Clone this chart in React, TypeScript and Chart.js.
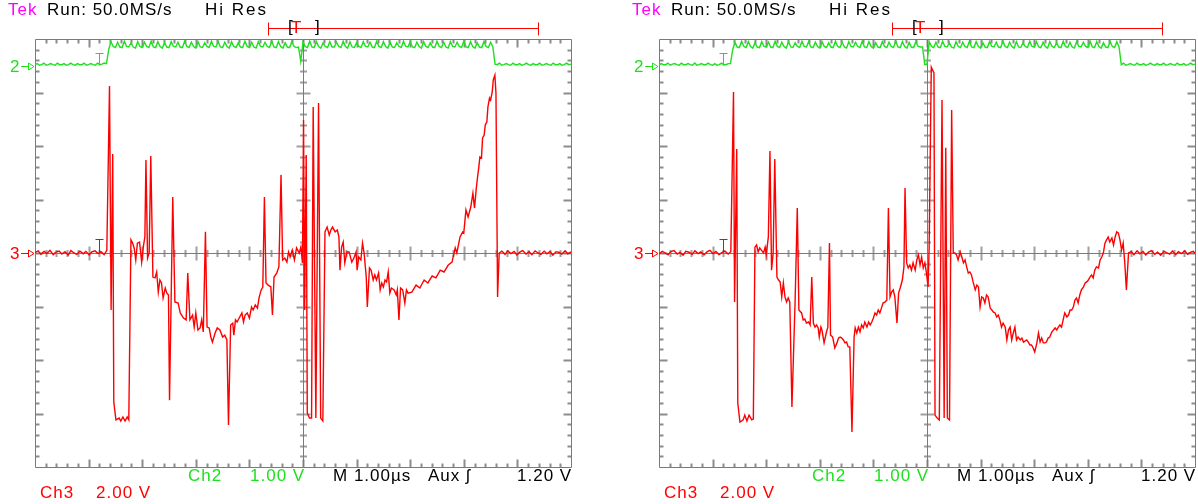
import React, { useEffect, useRef } from "react";
import { Chart, registerables } from "chart.js";

Chart.register(...registerables);

// ---------- labels ----------
const headerTek = "Tek";
const headerRun = "Run: 50.0MS/s";
const headerMode = "Hi Res";
const ch2Name = "Ch2";
const ch2Scale = "1.00 V";
const ch3Name = "Ch3";
const ch3Scale = "2.00 V";
const timebase = "M 1.00µs";
const trigSource = "Aux ʃ";
const trigLevelText = "1.20 V";

// ---------- axes (µs / volts) ----------
const timeMin = 0;
const timeMax = 10; // 10 div × 1.00 µs
const ch3Range = [-8, 8]; // 2.00 V/div, ground at centre
const ch2Range = [-7.5, 0.5]; // 1.00 V/div, ground 3.5 div above centre
const greenSampleStep = 1 / 24; // µs between Ch2 samples
const trigTime = 1.19;

// ---------- Ch3 (red), left capture ----------
const redLeftT = [
  0.00,0.06,0.11,0.17,0.22,0.28,0.34,0.39,0.45,0.50,0.56,0.62,0.67,0.73,0.78,0.84,0.90,0.95,1.01,1.06,1.12,1.18,1.23,1.29,1.34,
  1.39,1.42,1.45,1.47,1.51,1.57,1.60,1.64,1.68,1.72,1.75,1.79,1.82,1.85,1.88,1.91,1.95,1.99,2.02,2.05,2.07,2.10,2.13,2.16,
  2.20,2.24,2.27,2.30,2.33,2.36,2.39,2.43,2.46,2.49,2.51,2.57,2.61,2.67,2.71,2.77,2.82,2.85,2.89,2.94,2.97,3.00,3.04,3.08,3.11,3.14,3.18,
  3.21,3.25,3.28,3.31,3.36,3.40,3.45,3.50,3.54,3.58,3.61,3.65,3.69,3.71,3.74,3.77,3.81,3.86,3.89,3.92,3.96,4.00,4.04,4.07,4.11,4.15,4.18,4.22,4.25,4.28,
  4.31,4.35,4.40,4.43,4.46,4.51,4.55,4.59,4.62,4.66,4.70,4.73,4.76,4.80,4.84,4.88,4.93,4.96,4.99,
  5.01,5.03,5.06,5.08,5.12,5.16,5.19,5.24,5.29,5.33,5.37,5.41,5.45,5.49,5.52,5.55,5.60,5.64,5.67,
  5.69,5.72,5.75,5.78,5.82,5.86,5.91,5.95,5.99,6.01,6.04,6.08,6.11,6.14,6.18,6.20,6.24,6.27,6.31,6.34,6.37,6.41,6.44,6.47,6.50,6.53,6.56,6.59,6.62,6.65,6.70,6.74,6.76,6.79,6.82,6.86,6.90,6.93,6.96,
  7.03,7.11,7.18,7.26,7.33,7.41,7.48,7.56,7.63,7.71,7.78,7.84,7.87,7.93,7.98,8.00,8.04,8.08,8.13,8.17,8.20,8.23,8.25,8.28,8.30,8.33,8.35,8.38,8.40,8.43,8.45,8.48,8.50,8.53,8.55,8.58,8.60,8.63,8.66,
  8.71,8.77,8.82,8.88,8.94,8.99,9.05,9.10,9.16,9.22,9.27,9.33,9.38,9.44,9.50,9.55,9.61,9.66,9.72,9.78,9.83,9.89,9.94,10.00,
];
const redLeftV = [
  0.02,0.08,-0.05,0.06,-0.02,0.10,-0.06,0.03,0.07,-0.04,0.05,-0.08,0.09,0.00,-0.05,0.07,-0.03,0.06,-0.07,0.04,0.08,-0.02,0.05,-0.06,0.10,
  6.24,-2.13,3.70,-5.57,-6.24,-6.17,-6.28,-6.13,-6.28,-6.13,-6.24,0.49,0.37,0.19,-0.26,0.37,0.41,-0.34,0.22,0.60,3.48,-0.19,0.00,3.63,
  -0.90,-0.93,-0.71,-1.46,-1.01,-1.12,-1.68,-1.31,-1.50,-1.57,-5.50,2.09,-1.83,-1.87,-2.24,-2.43,-2.50,-0.75,-2.50,-2.32,-2.77,-2.24,-2.88,-2.80,-2.50,-2.95,0.79,
  -2.77,-2.80,-3.14,-3.33,-2.99,-2.80,-2.88,-3.14,-3.07,-3.25,-6.43,-2.69,-2.62,-3.07,-2.50,-2.58,-2.43,-2.24,-2.58,-2.32,-2.24,-2.43,-2.02,-2.13,-1.94,-2.06,-1.68,-1.38,-1.27,2.09,
  -1.12,-1.20,-1.27,-2.32,-0.90,-0.75,-0.52,2.92,-0.26,-0.19,-0.34,0.04,-0.15,0.11,-0.26,0.19,0.00,0.22,-0.37,
  4.97,-2.13,3.66,-5.98,-6.17,-6.17,5.46,-6.17,5.61,-6.17,-6.28,0.79,0.97,0.67,0.86,0.97,0.79,0.86,0.60,
  -0.64,0.22,0.41,-0.37,0.04,0.04,-0.34,-0.19,0.04,-0.64,-0.15,-0.26,0.37,0.00,-0.90,-2.02,-0.56,-0.64,-1.01,-0.82,-1.01,-0.75,-1.38,-1.12,-1.27,-1.01,-1.08,-0.71,-1.50,-1.31,-1.38,-1.57,-1.38,-2.50,-1.31,-1.38,-1.87,-1.38,-1.50,
  -1.46,-1.20,-1.31,-1.01,-1.12,-0.86,-0.93,-0.64,-0.71,-0.45,-0.34,0.19,0.00,0.60,0.79,0.75,1.61,1.35,1.72,2.24,1.68,2.36,2.73,3.21,3.59,3.55,4.30,4.41,4.79,4.90,5.46,5.79,5.72,6.02,6.47,6.65,5.98,-1.64,0.00,
  0.07,-0.05,0.08,-0.02,0.06,-0.07,0.04,0.09,-0.04,0.05,-0.06,0.08,0.01,-0.05,0.07,-0.03,0.06,-0.08,0.05,0.02,-0.04,0.08,-0.03,0.04,
];

// ---------- Ch3 (red), right capture ----------
const redRightT = [
  0.00,0.06,0.11,0.17,0.22,0.28,0.34,0.39,0.45,0.50,0.56,0.62,0.67,0.73,0.78,0.84,0.90,0.95,1.01,1.06,1.12,1.18,1.23,1.29,1.34,
  1.39,1.41,1.45,1.47,1.51,1.57,1.60,1.64,1.68,1.73,1.76,1.79,1.82,1.85,1.88,1.91,1.95,1.98,2.00,2.04,2.07,2.10,2.13,2.16,
  2.20,2.23,2.26,2.29,2.32,2.35,2.38,2.41,2.44,2.48,2.54,2.58,2.61,2.66,2.69,2.72,2.75,2.79,2.82,2.85,2.88,2.91,2.94,2.97,2.99,3.02,3.04,3.08,3.12,3.15,3.18,
  3.20,3.24,3.28,3.32,3.35,3.38,3.41,3.44,3.47,3.50,3.53,3.56,3.60,3.64,3.66,3.69,3.72,3.75,3.78,3.81,3.84,3.88,3.91,3.94,3.97,4.00,4.03,4.06,4.09,4.12,4.15,4.18,4.22,4.25,4.28,
  4.31,4.34,4.37,4.40,4.44,4.47,4.50,4.54,4.57,4.59,4.62,4.65,4.68,4.71,4.74,4.78,4.81,4.84,4.87,4.90,4.93,4.96,4.99,5.02,5.04,
  5.08,5.13,5.15,5.19,5.23,5.28,5.32,5.35,5.38,5.42,5.46,5.49,
  5.52,5.55,5.58,5.62,5.65,5.68,5.71,5.74,5.77,5.80,5.83,5.86,5.90,5.93,5.96,5.99,6.02,6.05,6.08,6.11,6.14,6.18,6.21,6.24,6.27,6.30,6.33,6.36,6.39,6.42,6.46,6.49,6.52,6.55,6.58,6.61,6.64,6.67,6.70,6.74,6.77,6.80,6.86,6.89,6.92,6.95,6.98,7.01,
  7.05,7.08,7.11,7.14,7.17,7.20,7.23,7.26,7.29,7.33,7.36,7.39,7.42,7.45,7.48,7.51,7.54,7.57,7.61,7.64,7.67,7.70,7.73,7.76,7.79,7.82,7.85,7.88,7.92,7.95,7.98,8.01,8.04,8.07,8.10,8.13,8.16,8.20,8.23,8.26,8.29,8.32,8.35,8.38,8.41,8.45,8.48,8.51,8.54,8.57,8.60,8.63,8.66,8.69,8.72,8.76,
  8.81,8.86,8.92,8.97,9.03,9.08,9.14,9.19,9.25,9.30,9.36,9.42,9.47,9.53,9.58,9.64,9.69,9.75,9.81,9.86,9.92,9.97,10.00,
];
const redRightV = [
  -0.03,0.06,0.01,-0.07,0.05,0.09,-0.04,0.02,-0.08,0.06,0.03,-0.05,0.08,-0.02,0.04,-0.07,0.05,0.10,-0.03,0.06,-0.06,0.02,0.07,-0.04,0.05,
  6.02,-1.83,3.89,-5.61,-6.32,-6.24,-6.06,-6.28,-6.06,-6.24,-6.21,0.22,0.30,0.04,0.19,0.11,0.00,0.22,-0.07,0.60,3.81,-0.64,0.00,3.51,
  -0.90,-1.01,-1.08,-1.64,-1.12,-1.64,-1.83,-1.68,-1.83,-5.76,-1.76,1.68,-2.13,-2.24,-2.50,-2.47,-2.62,-2.58,-2.69,-0.90,-2.62,-2.77,-2.69,-2.80,-3.14,-2.77,-2.88,-3.36,-2.99,-2.77,0.37,
  -3.07,-3.14,-3.55,-3.36,-3.18,-3.14,-3.18,-3.25,-3.36,-3.33,-3.51,-3.51,-6.69,-3.14,-2.80,-2.99,-2.77,-2.95,-2.69,-2.80,-2.58,-2.77,-2.58,-2.69,-2.58,-2.43,-2.24,-2.32,-2.13,-2.24,-2.06,-1.87,-1.83,-1.76,1.68,
  -1.64,-1.46,-1.38,-1.64,-2.62,-1.50,-1.31,-1.01,-0.52,2.43,-0.37,-0.56,-0.45,-0.64,-0.37,-0.64,-0.26,-0.07,-0.45,-0.15,-0.56,-0.37,-0.75,-1.27,0.22,
  6.95,6.73,-6.06,-6.17,-6.24,5.72,-6.17,3.93,-6.17,-6.24,5.35,0.00,
  0.00,-0.07,-0.26,0.04,-0.15,-0.37,-0.26,-0.52,-0.75,-0.71,-0.82,-1.08,-1.38,-1.20,-1.27,-2.02,-1.64,-1.68,-1.87,-1.57,-1.64,-2.06,-2.13,-2.21,-2.24,-2.39,-2.32,-2.50,-2.77,-2.62,-2.77,-3.25,-2.88,-2.77,-3.25,-2.99,-2.77,-3.25,-3.14,-3.25,-3.18,-3.33,-3.25,-3.33,-3.44,-3.44,-3.55,-3.70,
  -3.36,-2.99,-3.33,-3.18,-3.36,-3.36,-3.33,-3.18,-3.14,-2.95,-2.88,-2.80,-2.88,-2.77,-2.69,-2.77,-2.50,-2.24,-2.39,-2.32,-2.13,-2.13,-2.02,-1.76,-1.68,-1.87,-1.57,-1.38,-1.27,-1.12,-1.08,-1.01,-0.90,-0.82,-0.93,-0.64,-0.52,-0.56,-0.26,-0.15,0.00,0.37,0.49,0.60,0.41,0.56,0.30,0.60,0.79,0.75,0.49,0.11,0.37,-0.37,-1.38,0.00,
  0.05,-0.06,0.08,-0.03,0.06,-0.07,0.04,0.09,-0.05,0.03,-0.08,0.06,0.01,-0.04,0.07,-0.06,0.05,-0.02,0.08,-0.05,0.03,0.06,-0.02,
];

// ---------- Ch2 (green), sampled every greenSampleStep µs ----------
const greenLeftV = [
  0.02,0.04,0.01,0.02,0.05,0.01,0.02,0.04,0.02,0.01,0.05,0.02,0.02,0.04,0.01,0.02,0.05,0.02,0.01,0.04,0.02,0.02,0.05,0.01,0.02,0.04,0.02,0.01,0.05,0.02,0.03,0.05,
  0.04,0.30,
  0.45,0.36,0.34,0.44,0.35,0.34,0.46,0.36,0.35,0.43,0.35,0.33,
  0.45,0.36,0.34,0.44,0.36,0.34,0.46,0.35,0.34,0.45,0.36,0.33,
  0.43,0.35,0.34,0.45,0.36,0.35,0.44,0.35,0.34,0.46,0.36,0.34,
  0.44,0.36,0.33,0.45,0.35,0.34,0.43,0.36,0.34,0.46,0.36,0.35,
  0.45,0.35,0.34,0.44,0.36,0.33,0.45,0.36,0.34,0.43,0.35,0.34,
  0.46,0.36,0.34,0.44,0.35,0.33,0.45,0.36,0.35,0.44,0.36,0.34,
  0.46,0.35,0.34,0.45,0.36,0.33,0.43,0.35,0.34,0.45,0.36,0.34,
  0.35,
  0.08,
  0.44,0.36,0.34,0.46,0.35,0.34,0.45,0.36,0.33,0.43,0.36,0.34,
  0.45,0.35,0.35,0.44,0.36,0.34,0.46,0.36,0.33,0.45,0.35,0.34,
  0.43,0.36,0.34,0.45,0.36,0.35,0.44,0.35,0.34,0.46,0.36,0.34,
  0.45,0.36,0.33,0.44,0.35,0.34,0.43,0.36,0.34,0.46,0.36,0.35,
  0.45,0.35,0.34,0.44,0.36,0.33,0.45,0.36,0.34,0.43,0.35,0.34,
  0.46,0.36,0.34,0.44,0.35,0.33,0.45,0.36,0.35,0.44,0.36,0.34,
  0.46,0.35,0.34,0.45,0.36,0.33,0.43,0.35,0.34,0.45,0.36,0.34,
  0.44,0.35,
  0.03,0.02,0.05,0.01,0.02,0.04,0.02,0.01,0.05,0.02,0.02,0.04,0.01,0.02,0.05,0.02,0.01,0.04,0.02,0.02,0.05,0.01,0.02,0.04,0.02,0.01,0.05,0.02,0.02,0.04,0.01,0.02,0.05,0.02,0.03,
];
const greenRightV = [
  0.01,0.04,0.02,0.02,0.05,0.01,0.03,0.04,0.02,0.01,0.05,0.02,0.02,0.04,0.02,0.01,0.05,0.01,0.02,0.04,0.02,0.02,0.05,0.02,0.01,0.04,0.01,0.02,0.05,0.02,0.02,0.04,
  0.04,0.30,
  0.44,0.35,0.34,0.46,0.36,0.34,0.45,0.36,0.33,0.43,0.35,0.34,
  0.45,0.36,0.35,0.44,0.35,0.34,0.46,0.36,0.34,0.44,0.36,0.33,
  0.45,0.35,0.34,0.43,0.36,0.34,0.46,0.36,0.35,0.45,0.35,0.34,
  0.44,0.36,0.33,0.45,0.36,0.34,0.43,0.35,0.34,0.46,0.36,0.34,
  0.44,0.35,0.33,0.45,0.36,0.35,0.44,0.36,0.34,0.46,0.35,0.34,
  0.45,0.36,0.33,0.43,0.35,0.34,0.45,0.36,0.34,0.44,0.36,0.34,
  0.46,0.35,0.34,0.45,0.36,0.33,0.44,0.35,0.34,0.45,0.36,0.35,
  0.35,
  0.02,0.03,
  0.45,0.36,0.34,0.44,0.35,0.34,0.46,0.36,0.35,0.43,0.35,0.33,
  0.45,0.36,0.34,0.44,0.36,0.34,0.46,0.35,0.34,0.45,0.36,0.33,
  0.43,0.35,0.34,0.45,0.36,0.35,0.44,0.35,0.34,0.46,0.36,0.34,
  0.44,0.36,0.33,0.45,0.35,0.34,0.43,0.36,0.34,0.46,0.36,0.35,
  0.45,0.35,0.34,0.44,0.36,0.33,0.45,0.36,0.34,0.43,0.35,0.34,
  0.46,0.36,0.34,0.44,0.35,0.33,0.45,0.36,0.35,0.44,0.36,0.34,
  0.46,0.35,0.34,0.45,0.36,0.33,0.43,0.35,0.34,0.45,0.36,0.34,
  0.45,0.35,
  0.02,0.05,0.01,0.02,0.04,0.02,0.01,0.05,0.02,0.02,0.04,0.01,0.02,0.05,0.02,0.01,0.04,0.02,0.02,0.05,0.01,0.02,0.04,0.02,0.01,0.05,0.02,0.02,0.04,0.01,0.02,0.05,0.02,0.03,
];

// ---------- styling ----------
const RED = "#ff0000";
const GREEN = "#1ee01e";
const GRID = "#7a7a7a";
const TICK_LIGHT = "#a0a0a0";
const TICK_EDGE = "#8c8c8c";
const MAGENTA = "#ff00ff";
const FONT = '"Liberation Sans", Arial, Helvetica, sans-serif';

const scopePlugin = {
  id: "scopeGraticule",
  beforeDatasetsDraw(chart: any) {
    const { ctx, chartArea } = chart;
    const xs = chart.scales.x;
    const ys = chart.scales.y3;
    const snap = (v: number) => Math.round(v) + 0.5;
    const L = snap(chartArea.left);
    const R = snap(chartArea.right);
    const T = snap(chartArea.top);
    const B = snap(chartArea.bottom);
    const cx = snap(xs.getPixelForValue((timeMin + timeMax) / 2));
    const cy = snap(ys.getPixelForValue(0));
    ctx.save();

    // centre-line ticks (light, 2px)
    ctx.strokeStyle = TICK_LIGHT;
    ctx.lineWidth = 2;
    ctx.beginPath();
    for (let i = 1; i < 50; i++) {
      const major = i % 5 === 0;
      if (i === 25) continue;
      const x = Math.round(xs.getPixelForValue(timeMin + i * 0.2)) + 0.5;
      const ec = major ? 7 : 3.5;
      ctx.moveTo(x, cy - ec);
      ctx.lineTo(x, cy + ec);
    }
    for (let i = 1; i < 40; i++) {
      const major = i % 5 === 0;
      if (i === 20) continue;
      const y = Math.round(ys.getPixelForValue(ch3Range[0] + i * 0.4)) + 0.5;
      const ec = major ? 7 : 3.5;
      ctx.moveTo(cx - ec, y);
      ctx.lineTo(cx + ec, y);
    }
    ctx.stroke();

    // edge ticks (2px)
    ctx.strokeStyle = TICK_EDGE;
    ctx.lineWidth = 2;
    ctx.beginPath();
    for (let i = 1; i < 50; i++) {
      const major = i % 5 === 0;
      const x = Math.round(xs.getPixelForValue(timeMin + i * 0.2)) + 0.5;
      const eb = major ? 8 : 4;
      ctx.moveTo(x, T);
      ctx.lineTo(x, T + eb);
      ctx.moveTo(x, B);
      ctx.lineTo(x, B - eb);
    }
    for (let i = 1; i < 40; i++) {
      const major = i % 5 === 0;
      const y = Math.round(ys.getPixelForValue(ch3Range[0] + i * 0.4)) + 0.5;
      const eb = major ? 8 : 4;
      ctx.moveTo(L, y);
      ctx.lineTo(L + eb, y);
      ctx.moveTo(R, y);
      ctx.lineTo(R - eb, y);
    }
    ctx.stroke();

    // frame and centre lines
    ctx.strokeStyle = GRID;
    ctx.lineWidth = 1;
    ctx.beginPath();
    ctx.rect(L, T, R - L, B - T);
    ctx.moveTo(cx, T);
    ctx.lineTo(cx, B);
    ctx.moveTo(L, cy);
    ctx.lineTo(R, cy);
    ctx.stroke();
    ctx.restore();
  },
  afterDatasetsDraw(chart: any) {
    const { ctx, chartArea } = chart;
    const xs = chart.scales.x;
    const y3 = chart.scales.y3;
    const y2 = chart.scales.y2;
    const snap = (v: number) => Math.round(v) + 0.5;
    const L = Math.round(chartArea.left);
    const T = Math.round(chartArea.top);
    ctx.save();
    ctx.lineWidth = 1;
    // ground markers
    const marker = (y: number, color: string) => {
      ctx.strokeStyle = color;
      ctx.beginPath();
      ctx.moveTo(L - 14, snap(y));
      ctx.lineTo(L - 6, snap(y));
      ctx.moveTo(L - 6.5, snap(y) - 3.5);
      ctx.lineTo(L - 1, snap(y));
      ctx.lineTo(L - 6.5, snap(y) + 3.5);
      ctx.closePath();
      ctx.stroke();
    };
    marker(y3.getPixelForValue(0), RED);
    marker(y2.getPixelForValue(0), GREEN);
    // trigger "T" markers
    const tx = snap(xs.getPixelForValue(trigTime));
    const tee = (yBase: number, h: number, color: string) => {
      ctx.strokeStyle = color;
      ctx.beginPath();
      ctx.moveTo(tx - 4, snap(yBase - h));
      ctx.lineTo(tx + 4, snap(yBase - h));
      ctx.moveTo(tx, snap(yBase - h));
      ctx.lineTo(tx, snap(yBase - 1));
      ctx.stroke();
    };
    tee(y3.getPixelForValue(0), 14, RED);
    tee(y2.getPixelForValue(0), 13, GREEN);
    // record view bar
    const ry = T - 11 + 0.5;
    ctx.strokeStyle = RED;
    ctx.beginPath();
    ctx.moveTo(L + 233.5, ry);
    ctx.lineTo(L + 503.5, ry);
    ctx.moveTo(L + 233.5, ry - 6);
    ctx.lineTo(L + 233.5, ry + 7);
    ctx.moveTo(L + 503.5, ry - 6);
    ctx.lineTo(L + 503.5, ry + 7);
    ctx.stroke();
    ctx.restore();
  },
};

type PanelProps = {
  left: number;
  width: number;
  padRight: number;
  redT: number[];
  redV: number[];
  greenV: number[];
};

function Label({ x, y, color, text, spacing = 1 }: { x: number; y: number; color: string; text: string; spacing?: number }) {
  return (
    <span
      style={{
        position: "absolute",
        left: x,
        top: y,
        color,
        fontFamily: FONT,
        fontSize: 17,
        lineHeight: "17px",
        letterSpacing: spacing,
        whiteSpace: "pre",
      }}
    >
      {text}
    </span>
  );
}

function ScopePanel({ left, width, padRight, redT, redV, greenV }: PanelProps) {
  const ref = useRef<HTMLCanvasElement>(null);
  useEffect(() => {
    if (!ref.current) return;
    const chart = new Chart(ref.current, {
      type: "line",
      data: {
        datasets: [
          {
            label: ch2Name,
            data: greenV.map((v, i) => ({ x: i * greenSampleStep, y: v })),
            yAxisID: "y2",
            borderColor: GREEN,
            borderWidth: 1.4,
            pointRadius: 0,
            tension: 0,
          },
          {
            label: ch3Name,
            data: redT.map((t, i) => ({ x: t, y: redV[i] })),
            yAxisID: "y3",
            borderColor: RED,
            borderWidth: 1.4,
            pointRadius: 0,
            tension: 0,
          },
        ],
      },
      options: {
        animation: false,
        responsive: false,
        events: [],
        layout: { padding: { left: 35, top: 39, right: padRight, bottom: 37 } },
        scales: {
          x: { type: "linear", min: timeMin, max: timeMax, display: false },
          y3: { type: "linear", min: ch3Range[0], max: ch3Range[1], display: false },
          y2: { type: "linear", min: ch2Range[0], max: ch2Range[1], display: false },
        },
        plugins: { legend: { display: false }, tooltip: { enabled: false } },
      },
      plugins: [scopePlugin],
    } as any);
    return () => chart.destroy();
  }, []);
  return (
    <>
      <canvas
        ref={ref}
        width={width}
        height={504}
        style={{ position: "absolute", left, top: 0, width, height: 504 }}
      />
      <Label x={left + 8} y={1} color={MAGENTA} text={headerTek} />
      <Label x={left + 47} y={1} color="#000" text={headerRun} />
      <Label x={left + 205} y={1} color="#000" text={headerMode} spacing={2} />
      <Label x={left + 288} y={18} color="#000" text="[" />
      <Label x={left + 291} y={19} color={RED} text="T" />
      <Label x={left + 315} y={18} color="#000" text="]" />
      <Label x={left + 10} y={58} color={GREEN} text="2" />
      <Label x={left + 10} y={245} color={RED} text="3" />
      <Label x={left + 188} y={467} color={GREEN} text={ch2Name} />
      <Label x={left + 250} y={467} color={GREEN} text={ch2Scale} />
      <Label x={left + 333} y={467} color="#000" text={timebase} />
      <Label x={left + 428} y={467} color="#000" text={trigSource} />
      <Label x={left + 517} y={467} color="#000" text={trigLevelText} />
      <Label x={left + 40} y={484} color={RED} text={ch3Name} />
      <Label x={left + 96} y={484} color={RED} text={ch3Scale} />
    </>
  );
}

export default function App() {
  return (
    <div
      style={{
        position: "absolute",
        left: 0,
        top: 0,
        width: 1198,
        height: 504,
        background: "#fff",
        overflow: "hidden",
      }}
    >
      <ScopePanel left={0} width={624} padRight={53} redT={redLeftT} redV={redLeftV} greenV={greenLeftV} />
      <ScopePanel left={624} width={574} padRight={3} redT={redRightT} redV={redRightV} greenV={greenRightV} />
    </div>
  );
}
